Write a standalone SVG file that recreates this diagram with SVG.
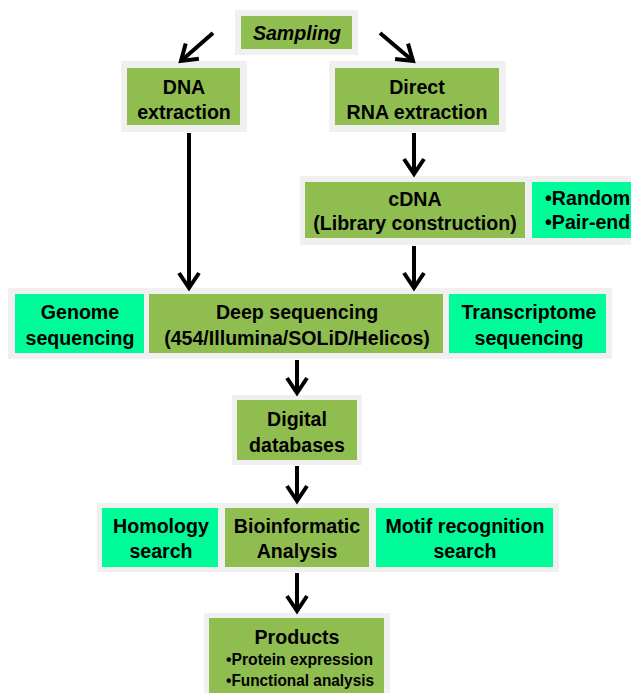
<svg xmlns="http://www.w3.org/2000/svg" width="631" height="693" viewBox="0 0 631 693">
<style>
.frame{fill:#F0F0F0}
.g{fill:#90BD50}
.c{fill:#00FC98}
text{font-family:"Liberation Sans",Arial,sans-serif;font-weight:bold;font-size:19.6px;fill:#000;text-anchor:middle}
.l{text-anchor:start}
.s{font-size:16px}
.conn{stroke:#000;stroke-width:4;fill:none;marker-end:url(#ah)}
</style>
<defs>
<marker id="ah" markerUnits="userSpaceOnUse" viewBox="-20 -14 24 28" refX="0" refY="0" markerWidth="24" markerHeight="28" orient="auto">
<path d="M-15,-10 L0,0 L-15,10" fill="none" stroke="#000" stroke-width="4" stroke-linejoin="miter"/>
</marker>
</defs>
<rect width="631" height="693" fill="#fff"/>

<g id="sampling">
<rect class="frame" x="235" y="10" width="123" height="45"/>
<rect class="g" x="241" y="16" width="111" height="33"/>
<text x="297" y="40" font-style="italic">Sampling</text>
</g>

<g id="dna-extraction">
<rect class="frame" x="121" y="61" width="126" height="71"/>
<rect class="g" x="127" y="68" width="113" height="57"/>
<text x="184" y="94">DNA</text>
<text x="184" y="119">extraction</text>
</g>

<g id="rna-extraction">
<rect class="frame" x="329" y="61" width="177" height="71"/>
<rect class="g" x="335" y="68" width="164" height="57"/>
<text x="417" y="94">Direct</text>
<text x="417" y="119">RNA extraction</text>
</g>

<g id="cdna">
<rect class="frame" x="300" y="176" width="331" height="69"/>
<rect class="g" x="305" y="182" width="220" height="56"/>
<text x="415" y="206">cDNA</text>
<text x="415" y="230">(Library construction)</text>
</g>

<g id="cdna-options">
<rect class="c" x="532" y="182" width="110" height="56"/>
<text class="l" x="545" y="205">•Random</text>
<text class="l" x="545" y="229">•Pair-end</text>
</g>

<rect class="frame" x="8" y="288" width="604" height="71"/>
<g id="genome-seq">
<rect class="c" x="15" y="294" width="129" height="59"/>
<text x="80" y="319">Genome</text>
<text x="80" y="345">sequencing</text>
</g>
<g id="deep-seq">
<rect class="g" x="149" y="294" width="294" height="59"/>
<text x="297" y="319">Deep sequencing</text>
<text x="297" y="345">(454/Illumina/SOLiD/Helicos)</text>
</g>
<g id="transcriptome-seq">
<rect class="c" x="449" y="294" width="157" height="59"/>
<text x="529" y="319">Transcriptome</text>
<text x="529" y="345">sequencing</text>
</g>

<g id="digital-db">
<rect class="frame" x="232" y="395" width="130" height="70"/>
<rect class="g" x="237" y="400" width="120" height="60"/>
<text x="297" y="426">Digital</text>
<text x="297" y="452">databases</text>
</g>

<rect class="frame" x="97" y="503" width="462" height="69"/>
<g id="homology">
<rect class="c" x="102" y="508" width="116" height="59"/>
<text x="161" y="533">Homology</text>
<text x="161" y="558">search</text>
</g>
<g id="bioinformatic">
<rect class="g" x="225" y="508" width="144" height="59"/>
<text x="297" y="533">Bioinformatic</text>
<text x="297" y="558">Analysis</text>
</g>
<g id="motif">
<rect class="c" x="376" y="508" width="177" height="59"/>
<text x="465" y="533">Motif recognition</text>
<text x="465" y="558">search</text>
</g>

<g id="products">
<rect class="frame" x="204" y="613" width="186" height="90"/>
<rect class="g" x="209" y="618" width="175" height="85"/>
<text x="297" y="644" font-size="19">Products</text>
<text class="l s" x="226" y="665" textLength="147" lengthAdjust="spacingAndGlyphs">•Protein expression</text>
<text class="l s" x="226" y="686" textLength="148" lengthAdjust="spacingAndGlyphs">•Functional analysis</text>
</g>

<g id="connectors">
<line class="conn" x1="213" y1="33" x2="181" y2="61"/>
<line class="conn" x1="380" y1="33" x2="413" y2="61"/>
<line class="conn" x1="189" y1="133" x2="189" y2="288"/>
<line class="conn" x1="414" y1="133" x2="414" y2="174"/>
<line class="conn" x1="414" y1="246" x2="414" y2="288"/>
<line class="conn" x1="297" y1="360" x2="297" y2="393"/>
<line class="conn" x1="297" y1="466" x2="297" y2="501"/>
<line class="conn" x1="297" y1="573" x2="297" y2="611"/>
</g>
</svg>
